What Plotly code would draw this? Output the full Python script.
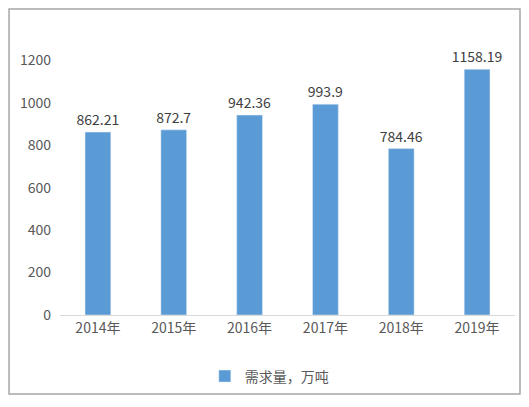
import plotly.graph_objects as go

years = ['2014年', '2015年', '2016年', '2017年', '2018年', '2019年']
demand = [862.21, 872.7, 942.36, 993.9, 784.46, 1158.19]
labels = ['862.21', '872.7', '942.36', '993.9', '784.46', '1158.19']

font = 'Noto Sans CJK SC'

fig = go.Figure()
fig.add_trace(go.Bar(
    x=years, y=demand, name='需求量，万吨',
    marker_color='#5B9BD5',
    text=labels, textposition='outside', constraintext='none',
    textfont=dict(size=14, color='#404040', family=font),
    cliponaxis=False,
))

fig.update_layout(
    width=513, height=391,
    margin=dict(l=52, r=6, t=10, b=81),
    paper_bgcolor='white', plot_bgcolor='white',
    bargap=0.66,
    font=dict(family=font, size=13, color='#595959'),
    showlegend=True,
    legend=dict(orientation='h', x=0.46, y=-0.207, xanchor='center', yanchor='middle',
                font=dict(size=14, color='#595959')),
    xaxis=dict(showline=True, linecolor='#D9D9D9', ticks='', tickfont=dict(size=14)),
    yaxis=dict(range=[0, 1400], dtick=200, showgrid=False, zeroline=False,
               showline=False, tickfont=dict(size=14), ticklabelstandoff=8),
)

fig.add_shape(type='rect', xref='paper', yref='paper',
              x0=-0.112, x1=1.011, y0=-0.266, y1=1.03,
              line=dict(color='#A6A6A6', width=1.5))

fig.write_html("out.html")
